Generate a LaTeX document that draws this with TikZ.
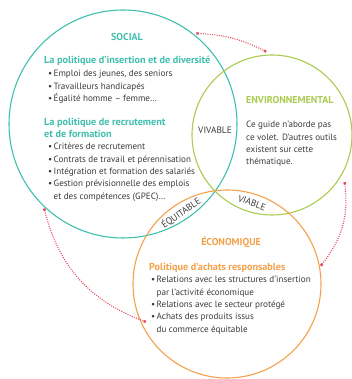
\documentclass[tikz,border=0pt]{standalone}
\usepackage{fontspec}
\setmainfont{PT Sans}
\usetikzlibrary{arrows.meta,positioning}
\definecolor{socialc}{HTML}{3FBFAD}
\definecolor{envc}{HTML}{A9CB4F}
\definecolor{ecoc}{HTML}{F4A04A}
\definecolor{linkc}{HTML}{E84A5F}
\definecolor{textc}{HTML}{3A3A3A}
\newcommand{\itm}{\makebox[5.5pt][l]{\textbullet}}
\newcommand{\cont}{\hspace*{5.5pt}}

\begin{document}
\begin{tikzpicture}[x=1pt, y=1pt,
    pole/.style={draw, circle, line width=1.1pt, inner sep=0pt},
    ttl/.style={font=\bfseries\fontsize{10}{12}\selectfont, anchor=base, inner sep=0pt},
    head/.style={font=\bfseries\fontsize{10.2}{12.3}\selectfont, anchor=base west, inner sep=0pt, align=left},
    lst/.style={font=\fontsize{9.1}{12.3}\selectfont, text=textc, anchor=base west, inner sep=0pt, align=left},
    tag/.style={font=\fontsize{9.3}{10}\selectfont, text=textc, inner sep=1pt},
    link/.style={linkc, line width=1.1pt, dash pattern=on 1pt off 1.3pt,
      {Square[length=2.4pt,width=2.4pt]}-{Square[length=2.4pt,width=2.4pt]}}
  ]
    \useasboundingbox (0,0) rectangle (352,379);

    % the three poles
    \node[pole, socialc, minimum size=228pt] (social) at (123,255) {};
    \node[pole, envc, minimum size=160pt] (env) at (272,244) {};
    \node[pole, ecoc, minimum size=188pt] (eco) at (227,95) {};

    % social (multi-line nodes sit on their last baseline)
    \node[ttl, text=socialc] (socT) at (127,338.5) {SOCIAL};
    \node[head, text=socialc] (socH1) at (44,315) {La politique d’insertion et de diversité};
    \node[lst] (socL1) at (48,277.4) {\itm Emploi des jeunes, des seniors\\
      \itm Travailleurs handicapés\\
      \itm Égalité homme – femme…};
    \node[head, text=socialc] (socH2) at (44,241) {La politique de recrutement\\et de formation};
    \node[lst] (socL2) at (48,179.8) {\itm Critères de recrutement\\
      \itm Contrats de travail et pérennisation\\
      \itm Intégration et formation des salariés\\
      \itm Gestion prévisionnelle des emplois\\
      \cont et des compétences (GPEC)…};

    % environnemental
    \node[ttl, text=envc, anchor=base west] (envT) at (246,275) {ENVIRONNEMENTAL};
    \node[lst] (envL) at (246,214.1) {Ce guide n’aborde pas\\
      ce volet. D’autres outils\\
      existent sur cette\\
      thématique.};

    % economique
    \node[ttl, text=ecoc] (ecoT) at (231,133) {ÉCONOMIQUE};
    \node[head, text=ecoc] (ecoH) at (149,108) {Politique d’achats responsables};
    \node[lst] (ecoL) at (151,46.8) {\itm Relations avec les structures d’insertion\\
      \cont par l’activité économique\\
      \itm Relations avec le secteur protégé\\
      \itm Achats des produits issus\\
      \cont du commerce équitable};

    % overlaps
    \node[tag] (vivable) at (215,249) {VIVABLE};
    \node[tag, rotate=-20] (viable) at (252,176) {VIABLE};
    \node[tag, rotate=35] (equitable) at (181,166) {ÉQUITABLE};

    % dotted links
    \draw[link] ([shift={(51:2)}]social.51) to[bend left=12] ([shift={(94:3)}]env.94);
    \draw[link] ([shift={(-33:6)}]env.-33) to[bend left=23] ([shift={(11:1)}]eco.11);
    \draw[link] ([shift={(227:1)}]social.227) to[bend right=28] ([shift={(205:-5)}]eco.205);
\end{tikzpicture}
\end{document}
